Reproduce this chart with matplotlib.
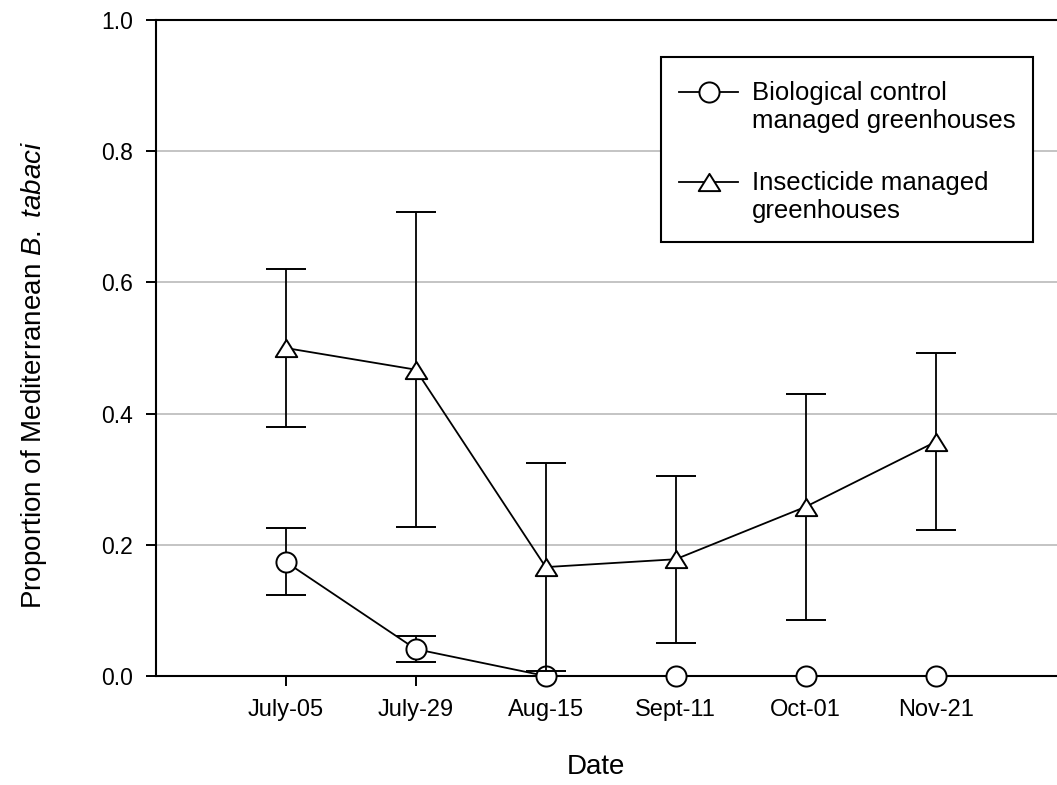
import matplotlib
matplotlib.use("Agg")
import matplotlib.pyplot as plt
from matplotlib.path import Path
from matplotlib.lines import Line2D
from matplotlib.patches import Rectangle
from matplotlib.legend_handler import HandlerLine2D
import numpy as np

plt.rcParams['font.family'] = ['Liberation Sans', 'DejaVu Sans']
plt.rcParams['mathtext.fontset'] = 'custom'
plt.rcParams['mathtext.rm'] = 'Liberation Sans'
plt.rcParams['mathtext.it'] = 'Liberation Sans:italic'

dates = ["July-05", "July-29", "Aug-15", "Sept-11", "Oct-01", "Nov-21"]
bio_mean = [0.174, 0.041, 0.0, 0.0, 0.0, 0.0]
bio_err = [0.051, 0.020, 0.0, 0.0, 0.0, 0.0]
ins_mean = [0.500, 0.467, 0.166, 0.178, 0.258, 0.357]
ins_err = [0.120, 0.240, 0.158, 0.127, 0.172, 0.135]
yticks = [0.0, 0.2, 0.4, 0.6, 0.8, 1.0]
labels = ['Biological control\nmanaged greenhouses', 'Insecticide managed\ngreenhouses']


class UpHandler(HandlerLine2D):
    """Line handler aligned with the first text line instead of the middle."""
    def __init__(self, shift, **kw):
        super().__init__(**kw)
        self.shift = shift

    def create_artists(self, legend, orig_handle, xdescent, ydescent, width, height,
                       fontsize, trans):
        return super().create_artists(legend, orig_handle, xdescent, ydescent - 2 * self.shift,
                                      width, height, fontsize, trans)


W, H = 1057, 785
fig = plt.figure(figsize=(W / 100, H / 100), dpi=100)
ax = fig.add_axes([155.7 / W, 1 - 676 / H, 1 - 155.7 / W, (676 - 20) / H])

x = np.arange(len(dates))
tri = Path([(0, 0.4), (-0.5, -0.4), (0.5, -0.4), (0, 0.4)], closed=True)

lw = 1.3
common = dict(color='black', lw=lw, elinewidth=lw, capsize=14.5, capthick=lw,
              mfc='white', mec='black', mew=1.4)
be = ax.errorbar(x, bio_mean, yerr=bio_err, marker='o', ms=14.5, zorder=3, **common)
ie = ax.errorbar(x, ins_mean, yerr=ins_err, marker=tri, ms=15.5, zorder=4, **common)
be[0].set_clip_on(False)
ie[0].set_clip_on(False)

ax.set_xlim(-1, (W - 285.7) / 130.0)
ax.set_ylim(0, 1.0)
ax.set_xticks(x)
ax.set_xticklabels(dates)
ax.set_yticks(yticks)
ax.set_yticklabels([f"{v:.1f}" for v in yticks])
ax.tick_params(axis='both', direction='out', length=10 * 0.72, width=1.4)
ax.tick_params(axis='x', labelsize=17, pad=9.5)
ax.tick_params(axis='y', labelsize=16.5, pad=9)

for s in ['left', 'bottom', 'top']:
    ax.spines[s].set_linewidth(1.5)
ax.spines['right'].set_visible(False)

ax.yaxis.grid(True, color='#c4c4c4', lw=1.4)
ax.set_axisbelow(True)

ax.set_xlabel('Date', fontsize=20, va='top')
ax.xaxis.set_label_coords((596 - 155.7) / (W - 155.7), (676 - 754) / 656)
ax.set_ylabel(r'Proportion of Mediterranean $\mathit{B.\ tabaci}$', fontsize=20)
ax.yaxis.set_label_coords((49 - 155.7) / (W - 155.7), (676 - 375) / 656)

# legend frame
fig.patches.append(Rectangle((661 / W, 1 - 241.5 / H), (1033 - 661) / W, (241.5 - 57) / H,
                             transform=fig.transFigure, facecolor='white', edgecolor='black',
                             lw=1.5, zorder=5))

h1 = Line2D([], [], color='black', lw=lw, marker='o', ms=14.5, mfc='white', mec='black', mew=1.4)
h2 = Line2D([], [], color='black', lw=lw, marker=tri, ms=15.5, mfc='white', mec='black', mew=1.4)
shift_pt = 15.5 * 0.72
leg = fig.legend([h1, h2], labels,
                 loc='upper left', bbox_to_anchor=(679 / W, 1 - 81 / H), bbox_transform=fig.transFigure,
                 borderaxespad=0, fontsize=18.5, handlelength=2.3, handletextpad=0.55,
                 labelspacing=1.48, borderpad=0, frameon=False,
                 handler_map={h1: UpHandler(shift_pt), h2: UpHandler(shift_pt)})
leg.set_zorder(6)

fig.savefig('out.png', dpi=100)
